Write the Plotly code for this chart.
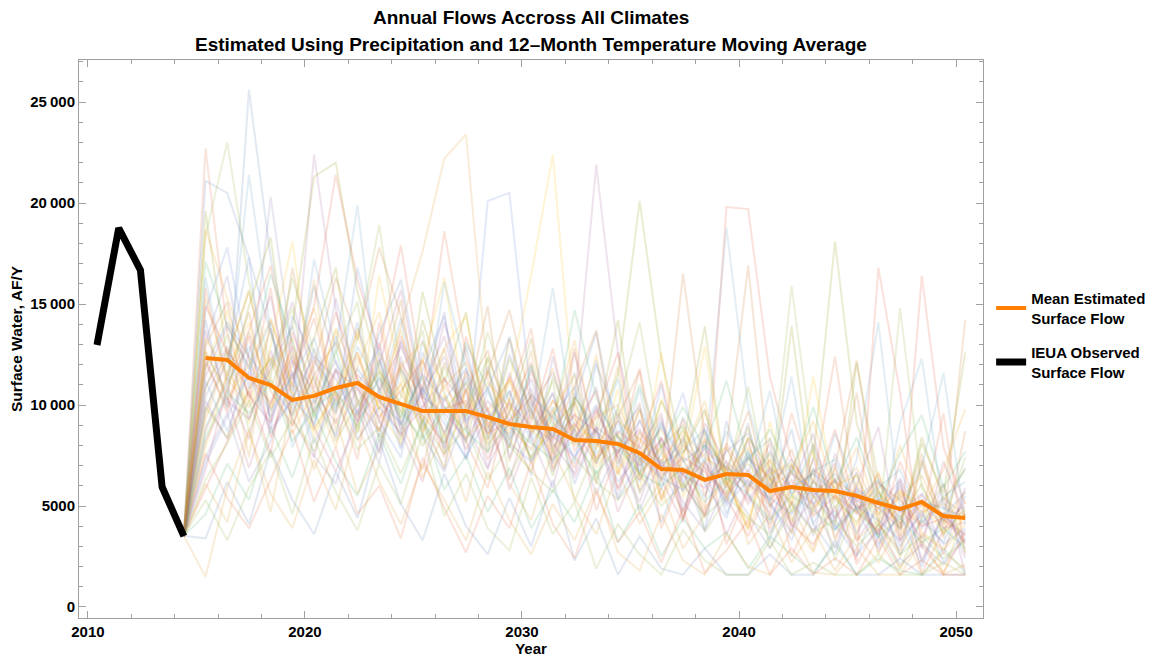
import plotly.graph_objects as go

# observed record
obs_years = [2010, 2011, 2012, 2013, 2014]
obs_flow = [12970, 18760, 16680, 5940, 3510]

# simulated years and mean of all climates
sim_years = list(range(2015, 2051))
mean_flow = [12330, 12230, 11340, 10990, 10250, 10450, 10840, 11090, 10400, 10050,
             9700, 9700, 9700, 9400, 9060, 8910, 8810, 8270, 8220, 8070,
             7620, 6830, 6780, 6290, 6580, 6530, 5740, 5940, 5790, 5740,
             5500, 5150, 4850, 5200, 4500, 4410]

# individual climate runs (2015-2050)
runs = [
    [14200, 9800, 25600, 17300, 12100, 8900, 13400, 10200, 7600, 11800, 9400, 6800, 12900, 8300, 10700, 7200, 9900, 6100, 8800, 5300, 7400, 4200, 6900, 3800, 9200, 5600, 3300, 7100, 4100, 2600, 5800, 3400, 6200, 2200, 4700, 3100],
    [9600, 12800, 7400, 14300, 10900, 16200, 8700, 12400, 9800, 13900, 17600, 22200, 23400, 11300, 8600, 12700, 6900, 10200, 7800, 11900, 5600, 8100, 4300, 9700, 6200, 3900, 8400, 5100, 2800, 6900, 3700, 5900, 2400, 7200, 4300, 3600],
    [18400, 23000, 16100, 11900, 14800, 9300, 12600, 15100, 8200, 10400, 13700, 7600, 9900, 12300, 6400, 8700, 11200, 5200, 7900, 9800, 4600, 6300, 8900, 3700, 5400, 7800, 2900, 4800, 6700, 2300, 5100, 3600, 1900, 4400, 6100, 2700],
    [22700, 13600, 10400, 15800, 8900, 12200, 10600, 7300, 14100, 9100, 6800, 11400, 8200, 5900, 10300, 13800, 7400, 9600, 4800, 7700, 10100, 3900, 6600, 8300, 3100, 5800, 7300, 2500, 4900, 6400, 2100, 4100, 5600, 1700, 3800, 5200],
    [13100, 16400, 10800, 20300, 12600, 9700, 15300, 11100, 8400, 13200, 10500, 14600, 7300, 11700, 9200, 6500, 12400, 8100, 10900, 5400, 9300, 6900, 4700, 8200, 5900, 9100, 4300, 6800, 3500, 7600, 4800, 2900, 6400, 3900, 5300, 2400],
    [8700, 11400, 14600, 9200, 16800, 11600, 9500, 13800, 10700, 15200, 8600, 12100, 9800, 14900, 7200, 10600, 8300, 12800, 6100, 9400, 11700, 5300, 8500, 4400, 7900, 16900, 6400, 3600, 8100, 5200, 10600, 4100, 2800, 7300, 3400, 8700],
    [16300, 11200, 21400, 13600, 9800, 17200, 12800, 19900, 10400, 14300, 8800, 16100, 11900, 7600, 13400, 9300, 15800, 8700, 12200, 6900, 10800, 5800, 9400, 7100, 18800, 9900, 6300, 11400, 4900, 8600, 5900, 3400, 9100, 12300, 4800, 6900],
    [11800, 14700, 9100, 12900, 18100, 10300, 13700, 8600, 16400, 11400, 9200, 12800, 14400, 8800, 11100, 16400, 22400, 9700, 7200, 10800, 6300, 12600, 5400, 8300, 6700, 3900, 9200, 5300, 7800, 3300, 6200, 2600, 5700, 3700, 2900, 4600],
    [10200, 8300, 12600, 15400, 10100, 22400, 14800, 9600, 12300, 7900, 10900, 13400, 9100, 6800, 11600, 8400, 5900, 10100, 21900, 12600, 7800, 9600, 4400, 7100, 5200, 8300, 3700, 5900, 8600, 4200, 6700, 2700, 4900, 3400, 6100, 1600],
    [19600, 12300, 15700, 10800, 13900, 21300, 22000, 15600, 11800, 9300, 14200, 10600, 8100, 12400, 9600, 13300, 7800, 10400, 8600, 11500, 20100, 12300, 7600, 9800, 5600, 8400, 6900, 4200, 7300, 18100, 9100, 5700, 3900, 8400, 5300, 6800],
    [12300, 9600, 13400, 8400, 11200, 14900, 21400, 16200, 12700, 17900, 11300, 8600, 10800, 7300, 9700, 12100, 6800, 8900, 10700, 5800, 8100, 11200, 6600, 4600, 19800, 19700, 11400, 7300, 5600, 8800, 4700, 6600, 3200, 16400, 7900, 5100],
    [14700, 17800, 12200, 9400, 11600, 8100, 10400, 14100, 9200, 7400, 12600, 9900, 8200, 20100, 20500, 10300, 8400, 11600, 7100, 9200, 5700, 7600, 10600, 6100, 4400, 7600, 5200, 3300, 6300, 4100, 2500, 5300, 3000, 4800, 2200, 3800],
    [9300, 12400, 15600, 11300, 8600, 10700, 7900, 11900, 14600, 9600, 12300, 8400, 11600, 7700, 10300, 7100, 9400, 13200, 8100, 6600, 9800, 5200, 7300, 4900, 6300, 3800, 6400, 4400, 2700, 5600, 3300, 4300, 1900, 3600, 2800, 4100],
    [6800, 10900, 8300, 12700, 9300, 7400, 11800, 9100, 13100, 8700, 6200, 10400, 7800, 9900, 5800, 8600, 10600, 6400, 8900, 4700, 7200, 9400, 4800, 6900, 3600, 5900, 8100, 3900, 5400, 7100, 3300, 4900, 6300, 2300, 4600, 3300],
    [4600, 7100, 5300, 8900, 6400, 9700, 7200, 5500, 8600, 6100, 9300, 5800, 7500, 4700, 6900, 3900, 5800, 4200, 6800, 3200, 5100, 2500, 4400, 2900, 3700, 1900, 3500, 2600, 1700, 3100, 1600, 2400, 1800, 1600, 2900, 1700],
    [21100, 20500, 17300, 13600, 10700, 15900, 12100, 9400, 13500, 16200, 10600, 7900, 11200, 8700, 12500, 9800, 7100, 10200, 13600, 8300, 6200, 9200, 5700, 8000, 4600, 7400, 5800, 8800, 4100, 6300, 3600, 5600, 2600, 4300, 3200, 5500],
    [1500, 5900, 8800, 4700, 10300, 6800, 9400, 5600, 7800, 11200, 6400, 8600, 5200, 9400, 6100, 4300, 7800, 5400, 3600, 6800, 4100, 5900, 2900, 4600, 6900, 3100, 4600, 2200, 3900, 1800, 3600, 2200, 4200, 1600, 2700, 1900],
    [10800, 13500, 8700, 11400, 16300, 12600, 9700, 13300, 18900, 11700, 8400, 11900, 9300, 13600, 10100, 7300, 11400, 8600, 6300, 9900, 14100, 7800, 5900, 8700, 6400, 10900, 5600, 15900, 7600, 4900, 6600, 3800, 14800, 5900, 4200, 7400],
    [15800, 10900, 13700, 16900, 11300, 14300, 10200, 12600, 9100, 13400, 10700, 18600, 12400, 8900, 11400, 9100, 12800, 7700, 9700, 7400, 11800, 6700, 9300, 5500, 8100, 6200, 4600, 9600, 6100, 12400, 5100, 3600, 7200, 4400, 9600, 2600],
    [7400, 9600, 6200, 8200, 11700, 7500, 6100, 9800, 7100, 12400, 8500, 6700, 9600, 11900, 7400, 10200, 6700, 8800, 5600, 7800, 4800, 7300, 5200, 3800, 6100, 4600, 2900, 5200, 3800, 4800, 2600, 3800, 2100, 3100, 2100, 3400],
    [12900, 15100, 10200, 13800, 9600, 11900, 16300, 13200, 17800, 14400, 10300, 12800, 8800, 11600, 14700, 10100, 8300, 10900, 13700, 7100, 9800, 6600, 16500, 8400, 6800, 9700, 5400, 7800, 4600, 6900, 12200, 5300, 4200, 7600, 3900, 14200],
    [11200, 8700, 11700, 14100, 7900, 10300, 8500, 12900, 10800, 7800, 13200, 9400, 7300, 10700, 8200, 11900, 7600, 10600, 8000, 11300, 6600, 9100, 7300, 5400, 8700, 6600, 10700, 5500, 8000, 4400, 7300, 14100, 4800, 6900, 11600, 4100],
    [7900, 11600, 14100, 9900, 12600, 8400, 10800, 13600, 9700, 8100, 12100, 16300, 9600, 11700, 8300, 6700, 9700, 11500, 6900, 8600, 5800, 10300, 7300, 12900, 6100, 4300, 7300, 5000, 11400, 5600, 4000, 6700, 3500, 5300, 1600, 4800],
    [13700, 10200, 9300, 12100, 15100, 11200, 8400, 10900, 7700, 13100, 9700, 14100, 10600, 6900, 9200, 11300, 8100, 6600, 9900, 7400, 5200, 8400, 6100, 4500, 7900, 5500, 4100, 7000, 5100, 2900, 6000, 8900, 3300, 5600, 2600, 5900],
    [12600, 10600, 14900, 18300, 10200, 13300, 16800, 9900, 11600, 8300, 15600, 11100, 14600, 8300, 12300, 9700, 6500, 10400, 8900, 14200, 7000, 10200, 8000, 13900, 6100, 8900, 4900, 13900, 5500, 4000, 12100, 6200, 3800, 8100, 5600, 12600],
    [5900, 8200, 10700, 7600, 13600, 10800, 14600, 11300, 8700, 12100, 10300, 7400, 13400, 9700, 7900, 11700, 9200, 6900, 9500, 12600, 6300, 8400, 4400, 7200, 5400, 3500, 6100, 4100, 3100, 5000, 2300, 16800, 10600, 3000, 1700, 3700],
    [9800, 12200, 17300, 8900, 14400, 12300, 9600, 16800, 12400, 9000, 11700, 14400, 9200, 10800, 13300, 8400, 10600, 7100, 12000, 9300, 6700, 11000, 6100, 8800, 5100, 7700, 5100, 3700, 6900, 3800, 5700, 3100, 4600, 2000, 4500, 5700],
    [18700, 15300, 12300, 9800, 11900, 14800, 10600, 8200, 10300, 13700, 9100, 6900, 10800, 8100, 13300, 9300, 11800, 8100, 12500, 6600, 8400, 5400, 7600, 10200, 5900, 8400, 3900, 6800, 9200, 5600, 7900, 4500, 8000, 4900, 6800, 9800],
    [8200, 10400, 6900, 10100, 12400, 8900, 6700, 9200, 12000, 15700, 10200, 7800, 11700, 9100, 6300, 9800, 7200, 12600, 8400, 5900, 8700, 6300, 4200, 9100, 7100, 5100, 6800, 4000, 7400, 3400, 5400, 3600, 6000, 2900, 7200, 4500],
    [17100, 13900, 11800, 16500, 13100, 9400, 12800, 8600, 12200, 9400, 11400, 8100, 13100, 10800, 7900, 12000, 8900, 14700, 10400, 7900, 11000, 7900, 9900, 7800, 11200, 7200, 8800, 6600, 9900, 6100, 8400, 5200, 7600, 9500, 5900, 7700],
    [3400, 6200, 4100, 7800, 5300, 3600, 6700, 4400, 8300, 5100, 3300, 6600, 4000, 2600, 5400, 3000, 6300, 2300, 4400, 1600, 3500, 1900, 1600, 2900, 1600, 1600, 2600, 1600, 1600, 3300, 1600, 1600, 2400, 1600, 1600, 1600],
    [6100, 4200, 8700, 5600, 3900, 7300, 4800, 9100, 6200, 4100, 7100, 5300, 3300, 6700, 4300, 2600, 5100, 3300, 5900, 2700, 1800, 4600, 2300, 1600, 3600, 2000, 1600, 3900, 1700, 1600, 2900, 1600, 1600, 3300, 1600, 2100],
    [5300, 3300, 5900, 7700, 4600, 8400, 5700, 3800, 7100, 5100, 8600, 4500, 6600, 3900, 2800, 6400, 3600, 5200, 1900, 4100, 2600, 1600, 3800, 2300, 1600, 1600, 3300, 1600, 2200, 1600, 1600, 2600, 1600, 1600, 2200, 1600],
    [7600, 5400, 3900, 6300, 8800, 5200, 7900, 4600, 6000, 3400, 7400, 4900, 2700, 5500, 3900, 7200, 4100, 2400, 5700, 3200, 4700, 2200, 4900, 1700, 2800, 4300, 1600, 2900, 1600, 2400, 1600, 3400, 1600, 2300, 1600, 1600],
    [10400, 12700, 9300, 11800, 13900, 10100, 12200, 9500, 11300, 8800, 10600, 12400, 9100, 10900, 8300, 9900, 11600, 8400, 9800, 7600, 9200, 6900, 8300, 6200, 7700, 8600, 6000, 7300, 5500, 6600, 5200, 6200, 4700, 5600, 4300, 5000],
    [12100, 9900, 13600, 10700, 9000, 11500, 13100, 10300, 8700, 11900, 9500, 8100, 10700, 12700, 8900, 7800, 10200, 8800, 7100, 9600, 7400, 6300, 8000, 6900, 5600, 7400, 6400, 5100, 6800, 5900, 4600, 6100, 5300, 4100, 5400, 4500],
    [8900, 11100, 12900, 9700, 11400, 13300, 9900, 11000, 12800, 9000, 10900, 8600, 11400, 9300, 10700, 8200, 9500, 10900, 7600, 8600, 9900, 7100, 7700, 8800, 6300, 7400, 8300, 5600, 6700, 7300, 4800, 5900, 6800, 4200, 5500, 6200],
    [13300, 11600, 10100, 12400, 10600, 8700, 10900, 12600, 9800, 11000, 8700, 10500, 8400, 9400, 11300, 8800, 7700, 9000, 8200, 6800, 8600, 7600, 5900, 7200, 7900, 5700, 6600, 7100, 4900, 6000, 6500, 4300, 5700, 5100, 3700, 4600],
    [11400, 13900, 11900, 8800, 10300, 12400, 11300, 9200, 10700, 12900, 10400, 9600, 8300, 10200, 9000, 10800, 8500, 7400, 8900, 8100, 7000, 8300, 6500, 5900, 7200, 6100, 5300, 6600, 5800, 4400, 5900, 4900, 3900, 5100, 4600, 3500],
    [9900, 8400, 10800, 12300, 9400, 11400, 8200, 10100, 11700, 10000, 8000, 9700, 11100, 8000, 9600, 7400, 8900, 10100, 7300, 8500, 6600, 7900, 9000, 6300, 7000, 5900, 7600, 4700, 6200, 5400, 4200, 5700, 4400, 6100, 3600, 4900],
    [14900, 12600, 11400, 10100, 12900, 9600, 11700, 10800, 9400, 10700, 12200, 9800, 10200, 8600, 9200, 10400, 7900, 9100, 7400, 8700, 7900, 6500, 7400, 6700, 5500, 6800, 5000, 6300, 4500, 5500, 4700, 3800, 5000, 4000, 4400, 3200],
    [7100, 9400, 11600, 8600, 10300, 9100, 11800, 8300, 9900, 8600, 10800, 9100, 7400, 9500, 8100, 7200, 8700, 7500, 8800, 6200, 7600, 6400, 5800, 7300, 5000, 6300, 5400, 4600, 5900, 3900, 5000, 4300, 3300, 4600, 3100, 3900],
    [12700, 10300, 12000, 14200, 11000, 10000, 13800, 11300, 10100, 11900, 13100, 10900, 9500, 11100, 9900, 8700, 10200, 9300, 8100, 9200, 8300, 7200, 8700, 7400, 6700, 7900, 6200, 7000, 5800, 6200, 5600, 4900, 5800, 4700, 5100, 4300],
    [10900, 12900, 10500, 9100, 12200, 10700, 9100, 11500, 10300, 8500, 9900, 11300, 10000, 8600, 10100, 9000, 8200, 9500, 8700, 7700, 8800, 7000, 6600, 7800, 6800, 5300, 6900, 5900, 5100, 6300, 4900, 5300, 4100, 5300, 3900, 4200],
    [8400, 10600, 9600, 11200, 8200, 9800, 10700, 8900, 11400, 9700, 8300, 9900, 8700, 7700, 9100, 8100, 7300, 8300, 6600, 7900, 6600, 6000, 6900, 5200, 6400, 5600, 4300, 5500, 4800, 3800, 4900, 3500, 4400, 3200, 3900, 2900],
    [11900, 14100, 12400, 11000, 9500, 12800, 10000, 11800, 10200, 9100, 11500, 10200, 11800, 9600, 8500, 10500, 9400, 8300, 10000, 8400, 7300, 8900, 7200, 8000, 6900, 6000, 7700, 5900, 6600, 5700, 5400, 6300, 4700, 5200, 4900, 4400],
    [15300, 11300, 9900, 11700, 13300, 8800, 10600, 9400, 12600, 10500, 9200, 10900, 12100, 9700, 11200, 8600, 9700, 8000, 9400, 10000, 7500, 8800, 6600, 7600, 6100, 7100, 5800, 6700, 5400, 5800, 6900, 4600, 5400, 6500, 4100, 5700],
    [6300, 8100, 10200, 7400, 9300, 7700, 10300, 7800, 8900, 6600, 9200, 7600, 8900, 6300, 8000, 6700, 5700, 7400, 6200, 5300, 6600, 5000, 6100, 4500, 5500, 4400, 3600, 5100, 3700, 4300, 3000, 4100, 2600, 3500, 2400, 3300],
]

palette = ["#5E81B5", "#E19C24", "#8FB032", "#EB6235", "#8778B3", "#C56E1A",
           "#5D9EC7", "#FFBF00", "#A5609D", "#929600", "#E95536", "#6685D9",
           "#F89F13", "#BC5B80", "#47B66D"]

# points sit a little past the year mark
obs_x = [y + 0.42 for y in obs_years]
sim_x = [y + 0.42 for y in sim_years]

fig = go.Figure()

for i, run in enumerate(runs):
    fig.add_trace(go.Scatter(
        x=[obs_x[-1]] + sim_x,
        y=[obs_flow[-1]] + run,
        mode="lines",
        line=dict(color=palette[i % len(palette)], width=2),
        opacity=0.17,
        showlegend=False,
        hoverinfo="skip",
    ))

fig.add_trace(go.Scatter(
    x=sim_x, y=mean_flow, mode="lines",
    name="Mean Estimated<br>Surface Flow", legendgroup="mean",
    line=dict(color="#FF7F00", width=4),
))
fig.add_trace(go.Scatter(
    x=obs_x, y=obs_flow, mode="lines",
    name="IEUA Observed<br>Surface Flow", legendgroup="obs",
    line=dict(color="black", width=7),
))

font = dict(family="Liberation Sans, Arial, sans-serif", color="black")
axis_common = dict(
    showline=True, linecolor="#a0a0a0", linewidth=1, mirror="ticks",
    ticks="inside", tickcolor="#a0a0a0", ticklen=7, tickwidth=1,
    showgrid=False, zeroline=False, automargin=False,
    tickfont=dict(size=15, weight="bold", **font),
)

fig.update_xaxes(
    range=[2009.59, 2051.24], tickvals=[2010, 2020, 2030, 2040, 2050],
    minor=dict(dtick=2, tick0=2010, ticks="inside", ticklen=4, tickcolor="#a0a0a0"),
    title=dict(text="Year", font=dict(size=15, weight="bold", **font), standoff=4),
    **axis_common,
)
fig.update_yaxes(
    range=[-545, 27080],
    tickvals=[0, 5000, 10000, 15000, 20000, 25000],
    ticktext=["0", "5000", "10\u2009000", "15\u2009000", "20\u2009000", "25\u2009000"],
    minor=dict(dtick=1000, tick0=0, ticks="inside", ticklen=4, tickcolor="#a0a0a0"),
    title=dict(text="Surface Water, AF/Y", font=dict(size=15.5, weight="bold", **font), standoff=4),
    **axis_common,
)

title_font = dict(size=19, weight="bold", **font)
# page body adds an 8px offset, so the figure is placed 8px in from the top-left
fig.update_layout(
    width=1151, height=649,
    margin=dict(l=71, r=176, t=52, b=39, autoexpand=False),
    plot_bgcolor="white", paper_bgcolor="white",
    font=font,
    annotations=[
        dict(text="Annual Flows Accross All Climates", x=0.5, y=1.0753,
             xref="paper", yref="paper", xanchor="center", yanchor="middle",
             showarrow=False, font=title_font),
        dict(text="Estimated Using Precipitation and 12\u2013Month Temperature Moving Average",
             x=0.5, y=1.0269, xref="paper", yref="paper", xanchor="center",
             yanchor="middle", showarrow=False, font=title_font),
    ],
    legend=dict(
        x=1.009, y=0.507, xanchor="left", yanchor="middle",
        font=dict(size=15, weight="bold", **font),
        itemwidth=30, traceorder="grouped", tracegroupgap=12,
    ),
)

fig.write_html("out.html")
